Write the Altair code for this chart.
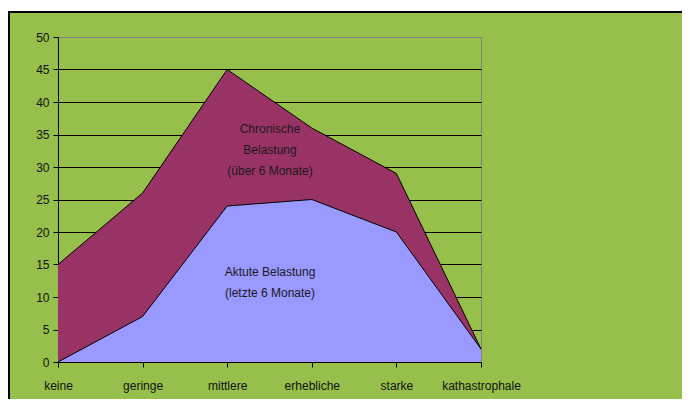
import altair as alt
import pandas as pd

categories = ["keine", "geringe", "mittlere", "erhebliche", "starke", "kathastrophale"]
chronisch = [15, 26, 45, 36, 29, 2]
akut = [0, 7, 24, 25, 20, 2]
y_ticks = [0, 5, 10, 15, 20, 25, 30, 35, 40, 45, 50]

label_chron = "Chronische\nBelastung\n(über 6 Monate)"
label_akut = "Aktute Belastung\n(letzte 6 Monate)"
label_chron_y = 35.8
label_akut_y = 13.8

FONT = "Liberation Sans"
BG = "#97BF4C"

df = pd.DataFrame({"cat": categories, "chron": chronisch, "akut": akut})
ann = pd.DataFrame({"t": [label_chron, label_akut], "y": [label_chron_y, label_akut_y]})

xenc = alt.X("cat:N", sort=categories, title=None,
             scale=alt.Scale(type="point", padding=0),
             axis=alt.Axis(labelAngle=0, labelFont=FONT, labelFontSize=12,
                           labelColor="#111", domainColor="black", tickColor="black",
                           tickSize=5, labelPadding=13, grid=False))
yscale = alt.Scale(domain=[0, 50], nice=False)
yaxis = alt.Axis(values=y_ticks, labelFont=FONT, labelFontSize=12,
                 labelColor="#111", domainColor="black", tickColor="black",
                 tickSize=5, labelPadding=4,
                 gridColor={"condition": {"test": "datum.value == 50", "value": "#808080"}, "value": "black"},
                 gridWidth=1, gridOpacity=1)

one = alt.Data(values=[{}])
white_strip = alt.Chart(one).mark_rect(fill="white").encode(
    x=alt.value(-60), x2=alt.value(700), y=alt.value(-40), y2=alt.value(-26))
top_line = alt.Chart(one).mark_rule(color="black", strokeWidth=2).encode(
    x=alt.value(-50), x2=alt.value(700), y=alt.value(-25))
left_line = alt.Chart(one).mark_rule(color="black", strokeWidth=2).encode(
    x=alt.value(-49), y=alt.value(-26), y2=alt.value(420))

chron_area = alt.Chart(df).mark_area(
    color="#993366", opacity=1, line={"color": "black", "strokeWidth": 1}
).encode(x=xenc, y=alt.Y("chron:Q", scale=yscale, title=None, axis=yaxis))

akut_area = alt.Chart(df).mark_area(
    color="#9999FF", opacity=1, line={"color": "black", "strokeWidth": 1}
).encode(x=xenc, y=alt.Y("akut:Q", scale=yscale, title=None, axis=yaxis))

text = alt.Chart(ann).mark_text(
    font=FONT, fontSize=12, color="#1a1a1a", align="center", baseline="middle",
    lineBreak="\n", lineHeight=21
).encode(text="t:N", x=alt.value(212), y=alt.Y("y:Q", scale=yscale, title=None, axis=yaxis))

chart = alt.layer(white_strip, top_line, left_line, chron_area, akut_area, text).properties(
    width=423, height=325,
    autosize=alt.AutoSizeParams(type="none"),
    padding={"left": 50, "top": 29, "right": 201, "bottom": 37},
    background=BG,
).configure_view(stroke="#808080", strokeWidth=1, fill=None)

chart.save("out.html", embed_options={"renderer": "svg", "actions": False})
